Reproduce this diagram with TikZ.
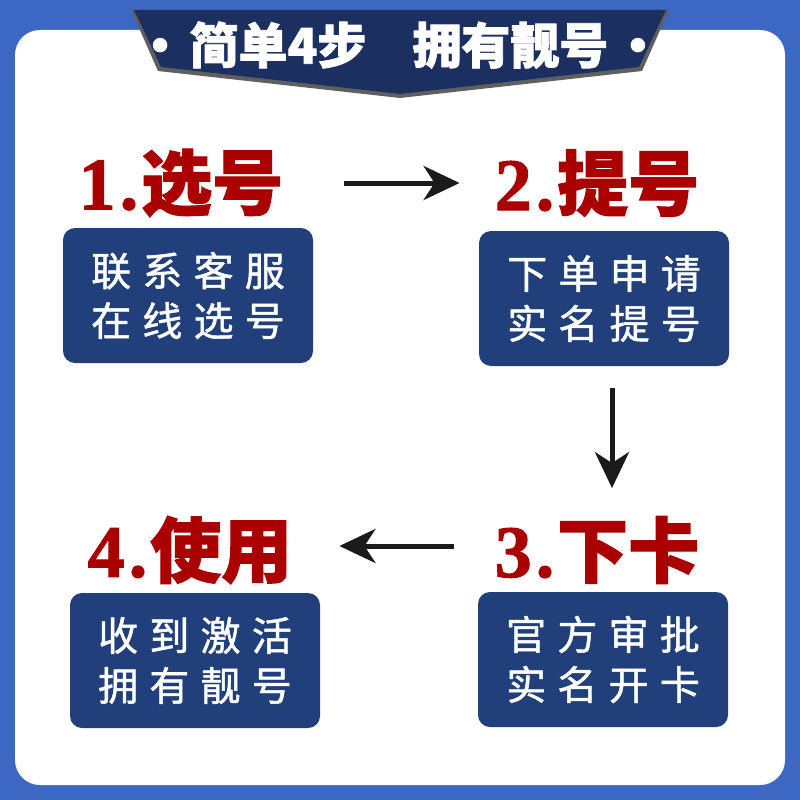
\documentclass[tikz,border=0pt]{standalone}
\usepackage{fontspec}
\usepackage{tikz}
\usetikzlibrary{arrows.meta}
\newfontfamily\cjk{Noto Sans CJK SC}
\newfontfamily\cjkheavy{Noto Sans CJK SC}[FakeBold=1.6]
\newfontfamily\cjkwide{Noto Sans CJK SC}[LetterSpace=28,FakeBold=1.2]
\newfontfamily\numserif{Liberation Serif}[FakeBold=1.5]
\definecolor{pageblue}{RGB}{60,104,196}
\definecolor{bannernavy}{RGB}{27,48,96}
\definecolor{boxnavy}{RGB}{33,63,123}
\definecolor{titlered}{RGB}{170,0,0}
\definecolor{edgegray}{RGB}{95,95,95}
\definecolor{arrowblack}{RGB}{26,26,26}
\newcommand{\stepnum}[1]{{\numserif\bfseries\fontsize{74}{76}\selectfont #1\hspace{4pt}.\hspace{3pt}}}
\tikzset{
  steptitle/.style={text=titlered,inner sep=0pt,font=\cjkheavy\bfseries\fontsize{71}{73}\selectfont},
  stepbox/.style={fill=boxnavy,rounded corners=12pt,minimum width=250pt,minimum height=135pt,
    text=white,align=center,font=\cjkwide\fontsize{40}{50}\selectfont},
  steparrow/.style={arrowblack,line width=5pt,-{Stealth[length=36pt,width=34pt,inset=11pt]}}
}

\begin{document}
\begin{tikzpicture}[x=1pt,y=-1pt]
  % page
  \fill[pageblue](0,0)rectangle(800,800);
  \fill[white,rounded corners=25pt](15,30)rectangle(785,785);
  % banner
  \fill[edgegray](131,10)--(158,71)--(400,98)--(642,71)--(669,10)--cycle;
  \fill[bannernavy](134,10)--(161,67)--(400,94)--(639,67)--(666,10)--cycle;
  \node[text=white,inner sep=0pt,font=\cjkheavy\bfseries\fontsize{49}{51}\selectfont] (banner) at (399,45)
    {•\hspace{5pt}简单4步\hspace{46pt}拥有靓号\hspace{5pt}•};
  % titles
  \node[steptitle] (title1) at (181,183) {\stepnum{1}选号};
  \node[steptitle] (title2) at (597,183) {\stepnum{2}提号};
  \node[steptitle] (title3) at (597,550) {\stepnum{3}下卡};
  \node[steptitle] (title4) at (190,550) {\stepnum{4}使用};
  % boxes
  \node[stepbox] (box1) at (188,295.5) {联系客服\\在线选号};
  \node[stepbox] (box2) at (604,298.5) {下单申请\\实名提号};
  \node[stepbox] (box3) at (603,659.5) {官方审批\\实名开卡};
  \node[stepbox] (box4) at (195,660.5) {收到激活\\拥有靓号};
  % arrows
  \draw[steparrow,shorten <=61pt,shorten >=35pt](title1.east)--(title2.west);
  \draw[steparrow,shorten <=22pt,shorten >=28pt](box2.south-|612,0)--(title3.north-|612,0);
  \draw[steparrow,shorten <=41pt,shorten >=47pt](title3.west|-0,546)--(title4.east|-0,546);
\end{tikzpicture}
\end{document}
